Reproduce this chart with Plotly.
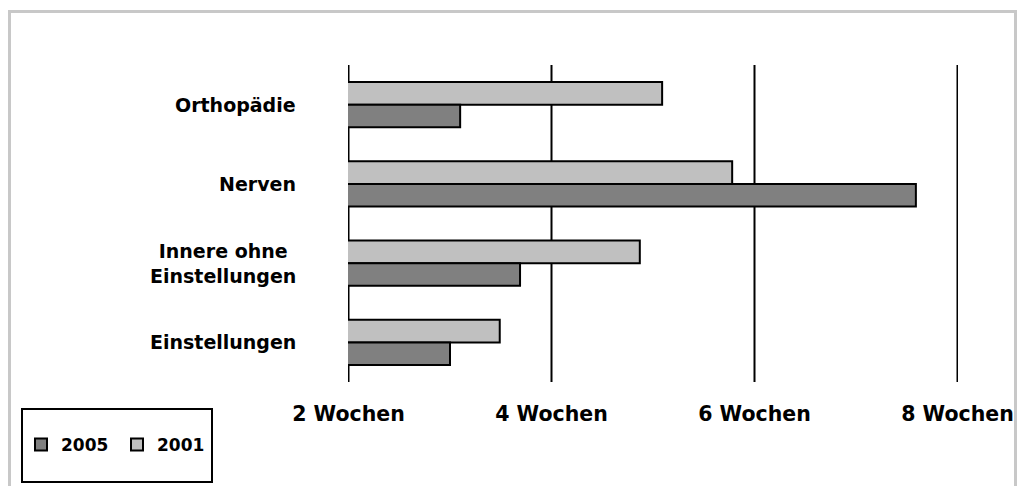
import plotly.graph_objects as go

# Wartezeiten in Wochen je Fachbereich
categories = ["Orthopädie", "Nerven", "Innere ohne<br>Einstellungen", "Einstellungen"]
values_2001 = [5.09, 5.78, 4.87, 3.49]
values_2005 = [3.10, 7.59, 3.69, 3.00]
tick_values = [2, 4, 6, 8]
tick_labels = ["2 Wochen", "4 Wochen", "6 Wochen", "8 Wochen"]

W, H = 1020, 486
PL, PR, PT, PB = 348, 958, 65, 382  # plot area in pixels


def px_x(px):
    return (px - PL) / (PR - PL)


def px_y(py):
    return (PB - py) / (PB - PT)


FONT = "DejaVu Sans"

fig = go.Figure()
fig.add_trace(go.Bar(
    y=categories, x=values_2001, name="2001", orientation="h",
    marker=dict(color="#c0c0c0", line=dict(color="black", width=2)),
    legendrank=2,
))
fig.add_trace(go.Bar(
    y=categories, x=values_2005, name="2005", orientation="h",
    marker=dict(color="#808080", line=dict(color="black", width=2)),
    legendrank=1,
))

# category labels, lines centred on each other
for cat in categories:
    fig.add_annotation(
        x=px_x(298), xref="paper", y=cat, yref="y",
        text=cat, showarrow=False, xanchor="right", align="center",
        font=dict(family=FONT, size=19, color="black", weight="bold"),
    )

shapes = [
    # outer frame
    dict(type="rect", xref="paper", yref="paper",
         x0=px_x(9.5), x1=px_x(1015.5), y0=px_y(520), y1=px_y(11.5),
         line=dict(color="#c8c8c8", width=3), layer="below"),
    # legend frame
    dict(type="rect", xref="paper", yref="paper",
         x0=px_x(22), x1=px_x(212), y0=px_y(482), y1=px_y(409),
         line=dict(color="black", width=2)),
]
# vertical grid lines at every tick, behind the bars
for tv in tick_values:
    shapes.append(dict(type="line", xref="x", yref="paper",
                       x0=tv, x1=tv, y0=0, y1=1,
                       line=dict(color="black", width=2), layer="below"))

fig.update_layout(
    width=W, height=H,
    margin=dict(l=PL, r=W - PR, t=PT, b=H - PB, pad=0, autoexpand=False),
    paper_bgcolor="white", plot_bgcolor="rgba(0,0,0,0)",
    barmode="group", bargap=0.43, bargroupgap=0,
    showlegend=True,
    legend=dict(
        orientation="h", x=px_x(21), y=px_y(445), xanchor="left", yanchor="middle",
        xref="paper", yref="paper",
        bgcolor="rgba(0,0,0,0)", borderwidth=0,
        font=dict(family=FONT, size=17, color="black", weight="bold"),
        entrywidth=51, entrywidthmode="pixels", itemwidth=30,
    ),
    xaxis=dict(
        range=[1.995, 8.005], tickvals=tick_values, ticktext=tick_labels,
        showgrid=False, zeroline=False, showline=False, ticks="",
        ticklabelstandoff=17, automargin=False,
        tickfont=dict(family=FONT, size=20.5, color="black", weight="bold"),
    ),
    yaxis=dict(
        autorange="reversed", showticklabels=False, showgrid=False,
        zeroline=False, showline=False, ticks="", automargin=False,
    ),
    shapes=shapes,
)

fig.write_html("out.html")
